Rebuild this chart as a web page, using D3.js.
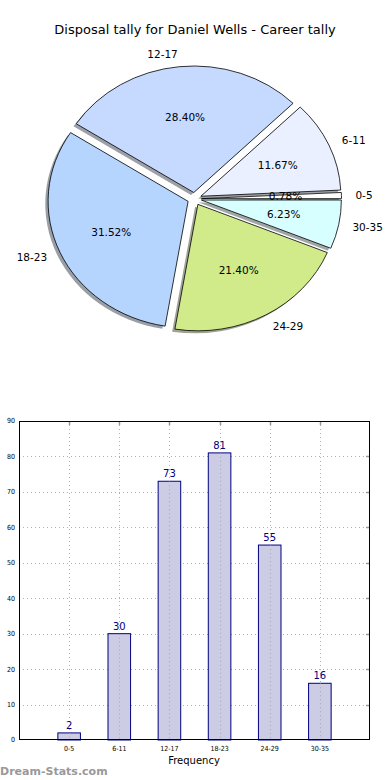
<!DOCTYPE html>
<html>
<head>
<meta charset="utf-8">
<script src="https://cdn.jsdelivr.net/npm/d3@7"></script>
<style>
  body { margin: 0; background: #fff; }
  svg { display: block; font-family: "DejaVu Sans", sans-serif; }
</style>
</head>
<body>
<div id="chart"></div>
<script>
var title = 'Disposal tally for Daniel Wells - Career tally';
var categories = ['0-5', '6-11', '12-17', '18-23', '24-29', '30-35'];
var counts = [2, 30, 73, 81, 55, 16];
var pieColors = ['#ffffff', '#eaf0ff', '#c6d9ff', '#b5d5ff', '#d1eb8b', '#d8ffff'];
var yTicks = [0, 10, 20, 30, 40, 50, 60, 70, 80, 90];

var svg = d3.select('#chart')
            .append('svg')
            .attr('width', 390)
            .attr('height', 780);

svg.append('text')
   .attr('x', 195)
   .attr('y', 34)
   .attr('text-anchor', 'middle')
   .style('font-size', '13px')
   .text(title);

// ---- pie (matplotlib style, elliptical, exploded, shadow) ----
var cx = 194.5, cy = 198.8, rx = 140, ry = 126.5, R = 100;
var explode = 0.05;
var total = d3.sum(counts);

var pie = d3.pie()
            .sort(null)
            .startAngle(Math.PI / 2)
            .endAngle(Math.PI / 2 - 2 * Math.PI);
var slices = pie(counts);

var arc = d3.arc().innerRadius(0).outerRadius(R);

var pieG = svg.append('g')
              .attr('transform', `translate(${cx},${cy}) scale(${rx / R},${ry / R})`);

function midAngle(d) { return (d.startAngle + d.endAngle) / 2; }

function shadowColor(c) {
    var rgb = d3.rgb(c);
    return `rgba(${Math.round(rgb.r * 0.3)},${Math.round(rgb.g * 0.3)},${Math.round(rgb.b * 0.3)},0.5)`;
}

pieG.selectAll('.shadow')
    .data(slices)
    .enter()
    .append('path')
    .attr('class', 'shadow')
    .attr('transform', d => {
        var a = midAngle(d);
        var ox = Math.sin(a) * explode * R - 0.02 * R;
        var oy = -Math.cos(a) * explode * R + 0.02 * R;
        return `translate(${ox},${oy})`;
    })
    .attr('d', arc)
    .attr('fill', (d, i) => shadowColor(pieColors[i]));

pieG.selectAll('.wedge')
    .data(slices)
    .enter()
    .append('path')
    .attr('class', 'wedge')
    .attr('transform', d => {
        var a = midAngle(d);
        return `translate(${Math.sin(a) * explode * R},${-Math.cos(a) * explode * R})`;
    })
    .attr('d', arc)
    .attr('fill', (d, i) => pieColors[i])
    .attr('stroke', '#000')
    .attr('stroke-width', 0.8)
    .attr('vector-effect', 'non-scaling-stroke');

svg.selectAll('.pie-label')
   .data(slices)
   .enter()
   .append('text')
   .attr('class', 'pie-label')
   .attr('x', d => cx + rx * (1.1 + explode) * Math.sin(midAngle(d)))
   .attr('y', d => cy - ry * (1.1 + explode) * Math.cos(midAngle(d)))
   .attr('dy', '0.35em')
   .attr('text-anchor', d => Math.sin(midAngle(d)) > 0 ? 'start' : 'end')
   .style('font-size', '10.5px')
   .text((d, i) => categories[i]);

svg.selectAll('.pct-label')
   .data(slices)
   .enter()
   .append('text')
   .attr('class', 'pct-label')
   .attr('x', d => cx + rx * (0.6 + explode) * Math.sin(midAngle(d)))
   .attr('y', d => cy - ry * (0.6 + explode) * Math.cos(midAngle(d)))
   .attr('dy', '0.35em')
   .attr('text-anchor', 'middle')
   .style('font-size', '10.5px')
   .text(d => (d.value / total * 100).toFixed(2) + '%');

// ---- bar chart ----
var plotLeft = 19, plotRight = 370, plotTop = 421, plotBottom = 740;
var x = d3.scaleLinear().domain([-1, 6]).range([plotLeft, plotRight]);
var y = d3.scaleLinear().domain([0, 90]).range([plotBottom, plotTop]);
var barW = 0.45;

var grid = svg.append('g')
              .attr('stroke', '#b0b0b0')
              .attr('stroke-width', 1)
              .attr('stroke-dasharray', '1,3');

grid.selectAll('.hgrid')
    .data(yTicks.slice(1, -1))
    .enter()
    .append('line')
    .attr('x1', plotLeft).attr('x2', plotRight)
    .attr('y1', d => Math.round(y(d)) + 0.5)
    .attr('y2', d => Math.round(y(d)) + 0.5);

grid.selectAll('.vgrid')
    .data(categories)
    .enter()
    .append('line')
    .attr('x1', (d, i) => Math.round(x(i)) + 0.5)
    .attr('x2', (d, i) => Math.round(x(i)) + 0.5)
    .attr('y1', plotTop).attr('y2', plotBottom);

svg.selectAll('.bar')
   .data(counts)
   .enter()
   .append('rect')
   .attr('class', 'bar')
   .attr('x', (d, i) => x(i - barW / 2))
   .attr('y', d => y(d))
   .attr('width', x(barW) - x(0))
   .attr('height', d => plotBottom - y(d))
   .attr('fill', '#ccccE5')
   .attr('stroke', '#000080')
   .attr('stroke-width', 1);

// grid lines also show through the bars
var grid2 = svg.append('g')
               .attr('stroke', '#999')
               .attr('stroke-width', 1)
               .attr('stroke-dasharray', '1,3')
               .attr('opacity', 0.7);
grid2.selectAll('.vgrid2')
     .data(counts)
     .enter()
     .append('line')
     .attr('x1', (d, i) => Math.round(x(i)) + 0.5)
     .attr('x2', (d, i) => Math.round(x(i)) + 0.5)
     .attr('y1', d => y(d)).attr('y2', plotBottom);

svg.selectAll('.bar-label')
   .data(counts)
   .enter()
   .append('text')
   .attr('class', 'bar-label')
   .attr('x', (d, i) => x(i))
   .attr('y', d => y(d) - 4)
   .attr('text-anchor', 'middle')
   .attr('fill', '#000080')
   .style('font-size', '10px')
   .text(d => d);

// tick marks on top and right
var ticks = svg.append('g').attr('stroke', '#999').attr('stroke-width', 1.5);
ticks.selectAll('.rtick')
     .data(yTicks.slice(1, -1))
     .enter()
     .append('line')
     .attr('x1', plotRight - 4).attr('x2', plotRight)
     .attr('y1', d => Math.round(y(d)) + 0.5)
     .attr('y2', d => Math.round(y(d)) + 0.5);
ticks.selectAll('.ttick')
     .data(categories)
     .enter()
     .append('line')
     .attr('x1', (d, i) => Math.round(x(i)) + 0.5)
     .attr('x2', (d, i) => Math.round(x(i)) + 0.5)
     .attr('y1', plotTop).attr('y2', plotTop + 4);

svg.append('rect')
   .attr('x', plotLeft + 0.5)
   .attr('y', plotTop + 0.5)
   .attr('width', plotRight - plotLeft - 1)
   .attr('height', plotBottom - plotTop - 1)
   .attr('fill', 'none')
   .attr('stroke', '#000')
   .attr('stroke-width', 1);

svg.selectAll('.ytick')
   .data(yTicks)
   .enter()
   .append('text')
   .attr('class', 'ytick')
   .attr('x', 15)
   .attr('y', d => y(d))
   .attr('dy', '0.35em')
   .attr('text-anchor', 'end')
   .style('font-size', '7px')
   .style('font-family', '"DejaVu Sans Condensed", "DejaVu Sans", sans-serif')
   .text(d => d);

svg.selectAll('.xtick')
   .data(categories)
   .enter()
   .append('text')
   .attr('class', 'xtick')
   .attr('x', (d, i) => x(i))
   .attr('y', plotBottom + 11)
   .attr('text-anchor', 'middle')
   .style('font-size', '7px')
   .style('font-family', '"DejaVu Sans Condensed", "DejaVu Sans", sans-serif')
   .text(d => d);

svg.append('text')
   .attr('x', 194)
   .attr('y', 764)
   .attr('text-anchor', 'middle')
   .style('font-size', '10px')
   .text('Frequency');

svg.append('text')
   .attr('x', 0)
   .attr('y', 775)
   .attr('fill', '#999')
   .style('font-size', '11px')
   .style('font-weight', 'bold')
   .text('Dream-Stats.com');
</script>
</body>
</html>
